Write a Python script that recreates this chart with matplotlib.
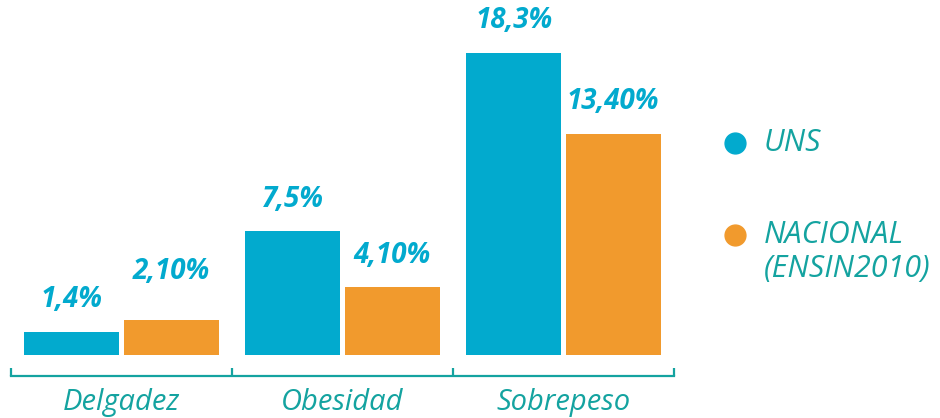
import numpy as np
import matplotlib.pyplot as plt

categories = ['Delgadez', 'Obesidad', 'Sobrepeso']
uns = [1.4, 7.5, 18.3]
nacional = [2.1, 4.1, 13.4]
uns_labels = ['1,4%', '7,5%', '18,3%']
nacional_labels = ['2,10%', '4,10%', '13,40%']
series_names = ['UNS', 'NACIONAL\n(ENSIN2010)']

blue = '#02AACE'
orange = '#F19A2D'
teal = '#14A3A0'

plt.rcParams['font.family'] = ['Open Sans', 'DejaVu Sans']

fig = plt.figure(figsize=(9.4, 4.18), dpi=100)
ax = fig.add_axes([11 / 940, 63 / 418, 663 / 940, 355 / 418])

x = np.arange(len(categories))
w = 0.43
off = 0.225
b1 = ax.bar(x - off, uns, w, color=blue)
b2 = ax.bar(x + off, nacional, w, color=orange)

# value labels above the bars (2,10% sits a bit higher in the original)
extra = {('n', 0): 12}
for key, bars, labels in [('u', b1, uns_labels), ('n', b2, nacional_labels)]:
    for i, (bar, lab) in enumerate(zip(bars, labels)):
        ax.annotate(lab, (bar.get_x() + bar.get_width() / 2, bar.get_height()),
                    xytext=(0, 23 + extra.get((key, i), 0)), textcoords='offset points',
                    ha='center', va='center', fontsize=20, fontweight='bold',
                    fontstyle='italic', color=blue)

ax.set_xlim(-0.5, 2.5)
ax.set_ylim(0, 21.5)

for s in ['top', 'right', 'left']:
    ax.spines[s].set_visible(False)
ax.spines['bottom'].set_position(('outward', 15))
ax.spines['bottom'].set_color(teal)
ax.spines['bottom'].set_linewidth(1.6)
ax.set_yticks([])

ax.set_xticks([-0.5, 0.5, 1.5, 2.5])
ax.set_xticklabels([])
ax.tick_params(axis='x', which='major', direction='in', length=5.5, width=1.6, color=teal)
ax.set_xticks(x, minor=True)
ax.set_xticklabels(categories, minor=True, fontsize=21, fontstyle='italic', color=teal)
ax.tick_params(axis='x', which='minor', length=0, pad=9)

# legend drawn by hand on the right
fig.add_artist(plt.Line2D([735 / 940], [1 - 143 / 418], marker='o', markersize=15,
                          color=blue, linestyle='none'))
fig.add_artist(plt.Line2D([735 / 940], [1 - 235 / 418], marker='o', markersize=15,
                          color=orange, linestyle='none'))
fig.text(764 / 940, 1 - 143 / 418, series_names[0], fontsize=22, fontstyle='italic',
         color=teal, va='center', ha='left')
fig.text(764 / 940, 1 - 252 / 418, series_names[1], fontsize=22, fontstyle='italic',
         color=teal, va='center', ha='left', linespacing=1.15)

fig.savefig('out.png', dpi=100)
